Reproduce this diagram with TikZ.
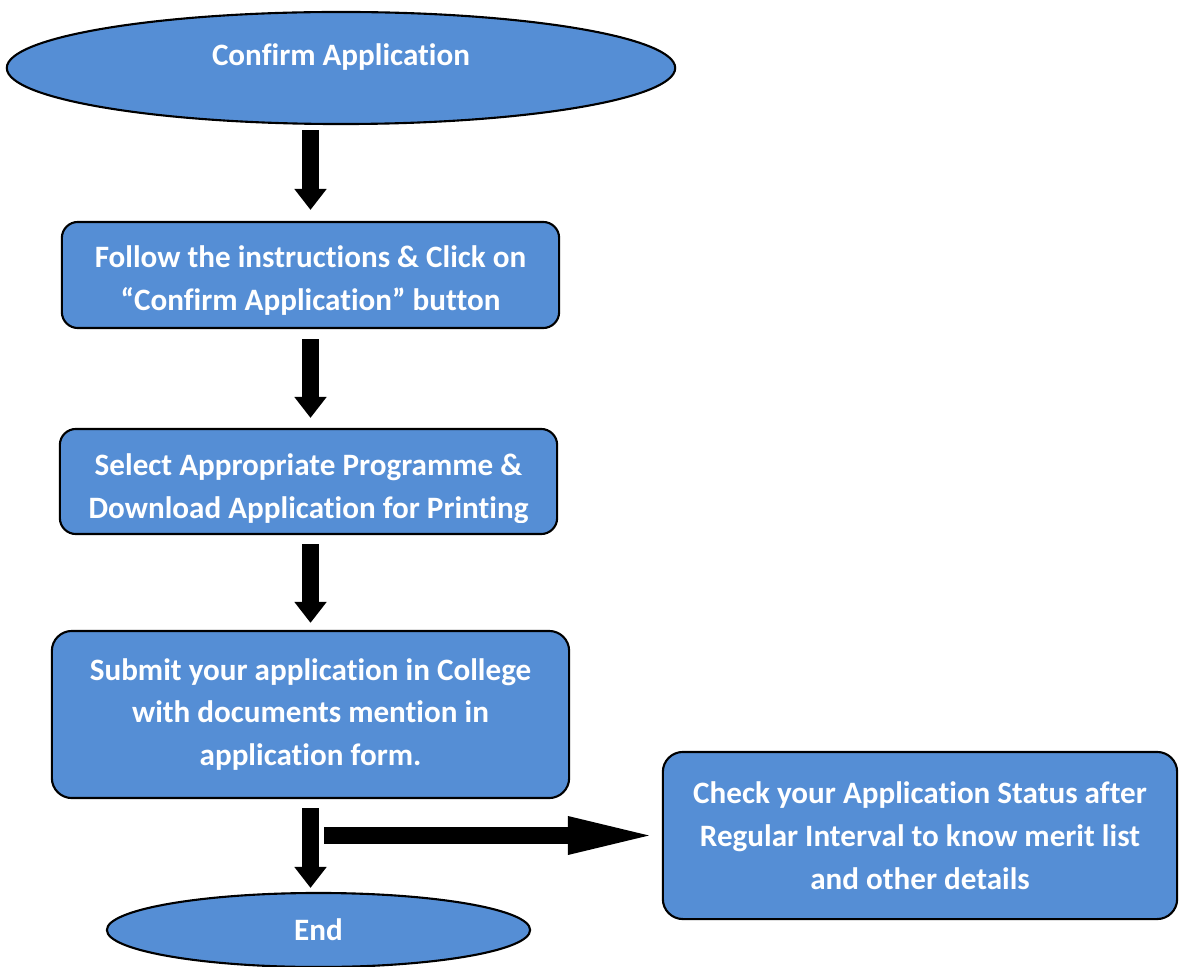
\documentclass[tikz,border=0pt]{standalone}
\usepackage{fontspec}
\setmainfont{Carlito}[Ligatures={TeX,NoCommon}]
\usetikzlibrary{shapes.geometric, positioning, arrows.meta, calc}
\definecolor{boxblue}{RGB}{85,142,213}
\newcommand{\flowfont}{\fontsize{8.85pt}{12.2pt}\selectfont\bfseries}

\tikzset{
    stage/.style = {draw, line width=0.6pt, fill=boxblue, rounded corners=0.16cm,
                    text=white, font=\flowfont, align=center, inner sep=0pt},
    terminal/.style = {draw, line width=0.6pt, fill=boxblue, ellipse, inner sep=0pt,
                       text=white, font=\flowfont},
    flowtext/.style = {text=white, font=\flowfont, align=center, inner sep=0pt},
    blk/.style = {line width=0.17cm, -{Triangle[length=0.21cm, width=0.31cm]}},
}

\begin{document}
\begin{tikzpicture}[x=0.01cm, y=-0.01cm]
    \useasboundingbox (0,0) rectangle (1179,967);

    \node[terminal, minimum width=6.68cm, minimum height=1.12cm,
          label={[yshift=0.11cm, flowtext]center:Confirm Application}] (start) at (341,68) {};
    \node[stage, minimum width=4.97cm, minimum height=1.06cm] (follow) at (310.5,275) {};
    \node[stage, minimum width=4.97cm, minimum height=1.05cm] (select) at (308.5,481.5) {};
    \node[stage, minimum width=5.17cm, minimum height=1.67cm, rounded corners=0.2cm] (submit) at (310.5,714.5)
        {Submit your application in College\\with documents mention in\\application form.};
    \node[stage, minimum width=5.14cm, minimum height=1.67cm, rounded corners=0.2cm] (status) at (920,835.5)
        {Check your Application Status after\\Regular Interval to know merit list\\and other details};
    \node[terminal, minimum width=4.23cm, minimum height=0.74cm] (end) at (318.5,930) {End};

    % text of the two upper boxes sits low and is cut off by the text area
    \begin{scope}
        \clip (follow.north west) rectangle ($(follow.south east)+(0,0.15cm)$);
        \node[flowtext] (followtext) at ($(follow.center)+(0,-0.055cm)$)
            {Follow the instructions \& Click on\\“Confirm Application” button};
    \end{scope}
    \begin{scope}
        \clip (select.north west) rectangle ($(select.south east)+(0,0.13cm)$);
        \node[flowtext] (selecttext) at ($(select.center)+(0,-0.07cm)$)
            {Select Appropriate Programme \&\\Download Application for Printing};
    \end{scope}

    \draw[blk, shorten <=0.05cm, shorten >=0.11cm] (follow.north |- start.south) -- (follow.north);
    \draw[blk, shorten <=0.10cm, shorten >=0.10cm] (follow.south) -- (follow.south |- select.north);
    \draw[blk, shorten <=0.09cm, shorten >=0.07cm] (submit.north |- select.south) -- (submit.north);
    \draw[blk, shorten <=0.09cm, shorten >=0.04cm] (submit.south) -- (submit.south |- end.north);
    \draw[line width=0.17cm, -{Triangle[length=0.94cm, width=0.33cm]}, shorten <=0.135cm, shorten >=0cm]
        (submit.south |- status.west) -- (status.west);

\end{tikzpicture}
\end{document}
